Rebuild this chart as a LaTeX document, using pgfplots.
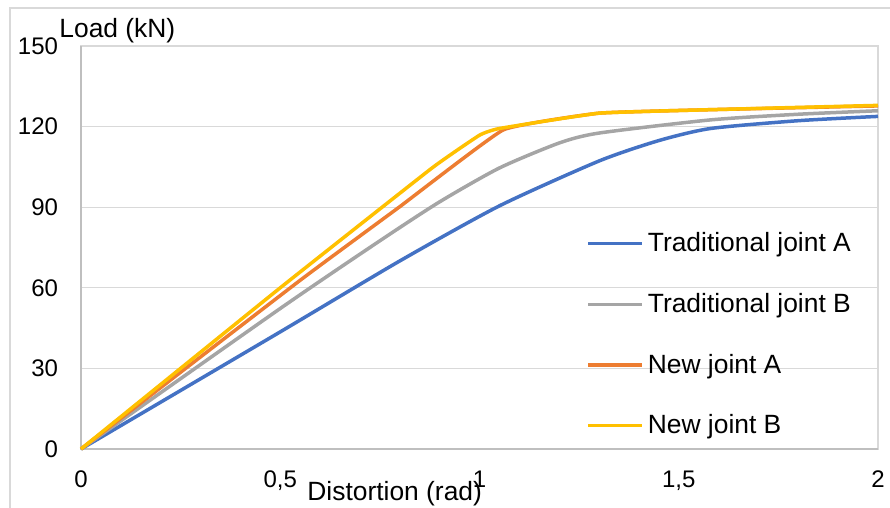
\documentclass[border=0pt]{standalone}
\usepackage{pgfplots}
\pgfplotsset{compat=1.18}
\usepackage{fontspec}
\setmainfont{Liberation Sans}
\definecolor{cBlue}{HTML}{4472C4}
\definecolor{cGray}{HTML}{A5A5A5}
\definecolor{cOrange}{HTML}{ED7D31}
\definecolor{cYellow}{HTML}{FFC000}
\definecolor{cGrid}{HTML}{D9D9D9}
\definecolor{cAxis}{HTML}{BFBFBF}
\begin{document}
\begin{tikzpicture}
\begin{axis}[
  at={(0,0)}, anchor=south west,
  scale only axis,
  width=398.5bp, height=201.5bp,
  xmin=0, xmax=2, ymin=0, ymax=150,
  xtick={0,0.5,1,1.5,2},
  ytick={0,30,60,90,120,150},
  /pgf/number format/use comma,
  /pgf/number format/assume math mode=true,
  tick label style={font=\fontsize{12bp}{14bp}\selectfont, text=black},
  yticklabel style={xshift=-8bp},
  xticklabel style={yshift=-7.5bp},
  major tick length=0pt,
  ymajorgrids,
  grid style={draw=cGrid, line width=0.6bp},
  axis line style={draw=cGrid, line width=0.6bp},
  clip=false,
  legend style={draw=none, fill=none, at={(0.6336,0.548)}, anchor=north west,
    font=\fontsize{13.2bp}{15bp}\selectfont, row sep=15.3bp, inner sep=0pt,
    /tikz/every even column/.append style={column sep=1bp}},
  legend cell align=left,
  legend image code/.code={\draw[#1, line width=1.75bp] (0bp,0bp) -- (27bp,0bp);},
]
\draw[cAxis, line width=0.7bp] (axis cs:0,150) -- (axis cs:0,0) -- (axis cs:2,0);
\addplot[cBlue, line width=1.75bp, smooth, tension=0.4] coordinates {(0,0) (0.5,43.6) (0.8,70) (1.05,90.5) (1.3,107.2) (1.45,114.8) (1.58,119.3) (1.8,122.2) (2,123.8)};
\addlegendentry{Traditional joint A}
\addplot[cGray, line width=1.75bp, smooth, tension=0.4] coordinates {(0,0) (0.5,52.3) (0.75,77.5) (0.9,92) (1.05,104.6) (1.2,113.9) (1.3,117.6) (1.58,122.5) (1.8,124.6) (2,125.9)};
\addlegendentry{Traditional joint B}
\addplot[cOrange, line width=1.75bp, smooth, tension=0.2] coordinates {(0,0) (0.55,62.8) (0.8,90.2) (1.06,118.8) (1.3,125) (1.58,126.3) (2,127.7)};
\addlegendentry{New joint A}
\addplot[cYellow, line width=1.75bp, smooth, tension=0.2] coordinates {(0,0) (0.5,60) (0.88,104.5) (1.0,116.8) (1.05,119.3) (1.3,125) (1.58,126.3) (2,127.9)};
\addlegendentry{New joint B}
\end{axis}
\node[anchor=base west, inner sep=0pt, font=\fontsize{13.2bp}{15bp}\selectfont] at (-11bp,205.5bp) {Load (kN)};
\node[anchor=base west, inner sep=0pt, font=\fontsize{13.2bp}{15bp}\selectfont] at (113bp,-25.5bp) {Distortion (rad)};
\draw[cGrid, line width=0.6bp] (-35.5bp,-29.5bp) -- (-35.5bp,220.5bp) -- (404.5bp,220.5bp);
\pgfresetboundingbox
\useasboundingbox (-40.5bp,-29.5bp) rectangle (404.5bp,224.5bp);
\end{tikzpicture}
\end{document}
